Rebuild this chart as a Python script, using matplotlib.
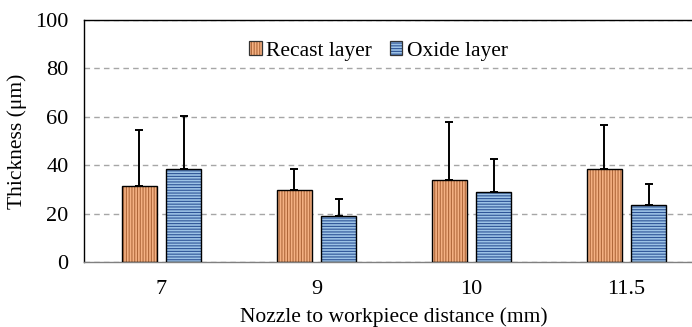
import numpy as np
import matplotlib.pyplot as plt
from matplotlib.legend_handler import HandlerTuple

plt.rcParams['font.family'] = ['Liberation Serif', 'DejaVu Serif']
plt.rcParams['hatch.linewidth'] = 0.8

# ===== 數據 =====
distances = ['7', '9', '10', '11.5']
recast_mean = [31.4, 29.6, 33.9, 38.4]
recast_err = [23.1, 9.0, 24.0, 18.1]
oxide_mean = [38.3, 19.0, 28.8, 23.7]
oxide_err = [22.0, 7.0, 13.8, 8.5]

x = np.arange(len(distances))
bar_w = 0.225
offset = 0.143

fig = plt.figure(figsize=(6.92, 3.27), dpi=100)
ax = fig.add_axes([0.1214, 0.1988, 0.896, 0.74])

# 填色+紋理（紋理顏色跟著edgecolor，所以先畫一層無框的）
ax.bar(x - offset, recast_mean, bar_w, color='#F4B183', edgecolor='#B0683A',
       hatch='||||||', linewidth=0, zorder=2)
ax.bar(x + offset, oxide_mean, bar_w, color='#9DC3E6', edgecolor='#2F5597',
       hatch='------', linewidth=0, zorder=2)
# 黑框
ax.bar(x - offset, recast_mean, bar_w, fill=False, edgecolor='black', linewidth=1.0, zorder=3)
ax.bar(x + offset, oxide_mean, bar_w, fill=False, edgecolor='black', linewidth=1.0, zorder=3)

# 誤差線（只畫上方）
ax.errorbar(x - offset, recast_mean, yerr=[np.zeros(4), recast_err], fmt='none',
            ecolor='black', elinewidth=1.4, capsize=3.2, capthick=1.4, zorder=1)
ax.errorbar(x + offset, oxide_mean, yerr=[np.zeros(4), oxide_err], fmt='none',
            ecolor='black', elinewidth=1.4, capsize=3.2, capthick=1.4, zorder=1)

# 圖例用的小方塊（紋理 + 黑框疊在一起）
h1 = plt.Rectangle((0, 0), 1, 1, facecolor='#F4B183', edgecolor='#B0683A', hatch='||||||', linewidth=0)
h2 = plt.Rectangle((0, 0), 1, 1, facecolor='#9DC3E6', edgecolor='#2F5597', hatch='------', linewidth=0)
b1 = plt.Rectangle((0, 0), 1, 1, fill=False, edgecolor='#333333', linewidth=0.9)
b2 = plt.Rectangle((0, 0), 1, 1, fill=False, edgecolor='#333333', linewidth=0.9)
leg = ax.legend([(h1, b1), (h2, b2)], ['Recast layer', 'Oxide layer'], loc='center',
                bbox_to_anchor=(0.475, 0.872), ncol=2, frameon=False, fontsize=15.5,
                handlelength=0.6, handleheight=0.6, handletextpad=0.2, columnspacing=0.8,
                borderpad=0, handler_map={tuple: HandlerTuple(ndivide=1, pad=0)})

ax.set_ylim(0, 100)
ax.set_yticks([0, 20, 40, 60, 80, 100])
ax.set_xlim(-0.5, len(distances) - 0.5)
ax.set_xticks(x)
ax.set_xticklabels(distances)
ax.tick_params(axis='both', length=0, labelsize=16)
ax.tick_params(axis='y', pad=11)
ax.tick_params(axis='x', pad=13)
ax.yaxis.grid(True, linestyle='--', color='#A6A6A6', linewidth=1.0, dashes=(4, 3))
ax.set_axisbelow(True)

for s in ['left', 'top', 'right']:
    ax.spines[s].set_color('black')
    ax.spines[s].set_linewidth(1.0)
ax.spines['bottom'].set_color('#808080')
ax.spines['bottom'].set_linewidth(1.0)

ax.set_xlabel('Nozzle to workpiece distance (mm)', fontsize=15.5, labelpad=6)
ax.set_ylabel('Thickness (μm)', fontsize=15.5, labelpad=6)

fig.savefig('out.png', dpi=100)
